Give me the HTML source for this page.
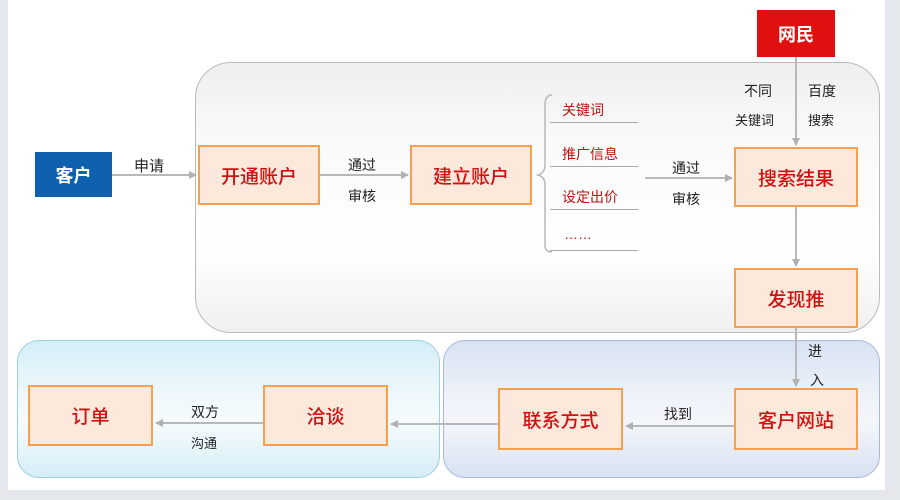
<!DOCTYPE html>
<html><head><meta charset="utf-8"><style>
body{margin:0;width:900px;height:500px;background:#e4e8ec;position:relative;overflow:hidden;font-family:"Liberation Sans","Noto Sans CJK SC",sans-serif}
.a{position:absolute}
.box{position:absolute;background:#fde9dc;border:2px solid #f5a050;box-sizing:border-box;color:#d01010;font-size:19px;display:flex;align-items:center;justify-content:center;font-weight:500}
.t{position:absolute;font-size:14px;color:#222}
.r{position:absolute;font-size:14px;color:#c01010}
.ln{position:absolute;height:1px;background:#aaa}
</style></head><body>
<div class="a" style="left:8px;top:0;width:877px;height:490px;background:#fff"></div>
<div class="a" style="left:195px;top:62px;width:685px;height:271px;border:1.5px solid #bbb;border-radius:36px;box-sizing:border-box;background:linear-gradient(#efefef,#fafafa 30%,#fff 70%,#f0f0f0)"></div>
<div class="a" style="left:17px;top:340px;width:423px;height:138px;border:1.5px solid #9ccfe0;border-radius:22px;box-sizing:border-box;background:linear-gradient(#d6eef8,#eef8fc 40%,#f5fbfd 60%,#d6eef8)"></div>
<div class="a" style="left:443px;top:340px;width:437px;height:138px;border:1.5px solid #a8b8d8;border-radius:22px;box-sizing:border-box;background:linear-gradient(#d8e2f2,#eef2f9 40%,#f3f6fb 60%,#d8e2f2)"></div>
<svg class="a" style="left:0;top:0" width="900" height="500">
<defs><marker id="m" markerWidth="8" markerHeight="8" refX="7" refY="4" orient="auto" markerUnits="userSpaceOnUse"><path d="M0,0 L8,4 L0,8z" fill="#b0b0b0"/></marker></defs>
<g stroke="#b8b8b8" stroke-width="2" fill="none">
<line x1="112" y1="175" x2="196" y2="175" marker-end="url(#m)"/>
<line x1="320" y1="175" x2="408" y2="175" marker-end="url(#m)"/>
<line x1="645" y1="178" x2="732" y2="178" marker-end="url(#m)"/>
<line x1="796" y1="57" x2="796" y2="145" marker-end="url(#m)"/>
<line x1="796" y1="207" x2="796" y2="266" marker-end="url(#m)"/>
<line x1="796" y1="328" x2="796" y2="386" marker-end="url(#m)"/>
<line x1="734" y1="426" x2="626" y2="426" marker-end="url(#m)"/>
<line x1="498" y1="424" x2="391" y2="424" marker-end="url(#m)"/>
<line x1="263" y1="423" x2="156" y2="423" marker-end="url(#m)"/>
<path d="M552,95 Q545,95 545,105 L545,165 Q545,173 538,175 Q545,177 545,185 L545,245 Q545,252 552,252" stroke-width="1.5"/>
</g></svg>
<div class="ln" style="left:550px;top:122px;width:88px"></div>
<div class="ln" style="left:550px;top:166px;width:88px"></div>
<div class="ln" style="left:550px;top:209px;width:88px"></div>
<div class="ln" style="left:550px;top:250px;width:88px"></div>
<div class="r" style="left:562px;top:100px">关键词</div>
<div class="r" style="left:562px;top:144px">推广信息</div>
<div class="r" style="left:562px;top:187px">设定出价</div>
<div class="r" style="left:564px;top:226px">……</div>
<div class="a" style="left:35px;top:152px;width:77px;height:45px;background:#1060b0;color:#fff;font-size:18px;font-weight:bold;display:flex;align-items:center;justify-content:center">客户</div>
<div class="a" style="left:757px;top:10px;width:78px;height:47px;background:#e01010;color:#fff;font-size:18px;font-weight:bold;display:flex;align-items:center;justify-content:center">网民</div>
<div class="box" style="left:198px;top:145px;width:122px;height:60px">开通账户</div>
<div class="box" style="left:410px;top:145px;width:122px;height:60px">建立账户</div>
<div class="box" style="left:734px;top:147px;width:124px;height:60px">搜索结果</div>
<div class="box" style="left:734px;top:268px;width:124px;height:60px">发现推</div>
<div class="box" style="left:28px;top:385px;width:125px;height:61px">订单</div>
<div class="box" style="left:263px;top:385px;width:125px;height:61px">洽谈</div>
<div class="box" style="left:498px;top:388px;width:125px;height:62px">联系方式</div>
<div class="box" style="left:734px;top:388px;width:124px;height:62px">客户网站</div>
<div class="t" style="left:134px;top:155px;font-size:15px">申请</div>
<div class="t" style="left:348px;top:155px">通过</div>
<div class="t" style="left:348px;top:186px">审核</div>
<div class="t" style="left:672px;top:158px">通过</div>
<div class="t" style="left:672px;top:189px">审核</div>
<div class="t" style="left:744px;top:81px">不同</div>
<div class="t" style="left:735px;top:110px;font-size:13px">关键词</div>
<div class="t" style="left:808px;top:81px">百度</div>
<div class="t" style="left:808px;top:110px;font-size:13px">搜索</div>
<div class="t" style="left:808px;top:341px">进</div>
<div class="t" style="left:810px;top:370px">入</div>
<div class="t" style="left:664px;top:404px">找到</div>
<div class="t" style="left:191px;top:402px">双方</div>
<div class="t" style="left:191px;top:433px;font-size:13px">沟通</div>
</body></html>
